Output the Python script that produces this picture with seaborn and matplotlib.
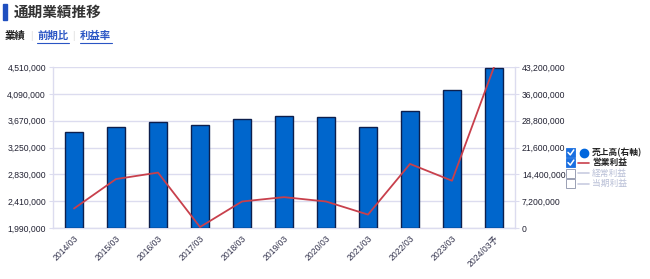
import numpy as np
import pandas as pd
import matplotlib
matplotlib.use("Agg")
import matplotlib.pyplot as plt
import seaborn as sns
from matplotlib.patches import Rectangle
from matplotlib.lines import Line2D

# ---- data ----
periods = ["2014/03", "2015/03", "2016/03", "2017/03", "2018/03", "2019/03",
           "2020/03", "2021/03", "2022/03", "2023/03", "2024/03予"]
sales = [25740000, 27090000, 28350000, 27540000, 29340000, 30150000,
         29790000, 27180000, 31410000, 37080000, 42930000]          # 売上高 (right axis)
op_profit = [2295000, 2756000, 2857000, 2005000, 2405000, 2473000,
             2405000, 2200000, 2993000, 2730000, 4510000]           # 営業利益 (left axis)
left_ticks = [1990000, 2410000, 2830000, 3250000, 3670000, 4090000, 4510000]
right_ticks = [0, 7200000, 14400000, 21600000, 28800000, 36000000, 43200000]
legend_labels = ["売上高(右軸)", "営業利益", "経常利益", "当期利益"]

sns.set_theme(style="white")
plt.rcParams["font.family"] = ["Liberation Sans", "Noto Sans CJK JP", "DejaVu Sans"]

df = pd.DataFrame({"period": periods, "sales": sales, "op": op_profit})

fig = plt.figure(figsize=(6.5, 2.79), dpi=100)
fig.patch.set_facecolor("white")
ax = fig.add_axes([53/650, 1-228/279, (515-53)/650, (228-67)/279])

grid_c = "#dcdcef"
text_c = "#222233"

# bars on ax (right-hand scale)
sns.barplot(data=df, x="period", y="sales", ax=ax, color="#0066cc",
            saturation=1, width=0.44, edgecolor="#0d1f4d", linewidth=1.0, zorder=3)
ax.set_ylim(right_ticks[0], right_ticks[-1])
ax.set_xlim(-0.5, len(periods) - 0.5)
ax.grid(axis="y", color=grid_c, linewidth=1.0, zorder=0)
ax.set_axisbelow(True)
ax.set_xlabel("")
ax.set_ylabel("")

# line on twin (left-hand scale)
ax2 = ax.twinx()
sns.lineplot(data=df, x="period", y="op", ax=ax2, color="#c8404c",
             linewidth=1.3, sort=False, zorder=5)
ax2.set_ylim(left_ticks[0], left_ticks[-1])
ax2.set_xlim(-0.5, len(periods) - 0.5)
ax2.set_xlabel("")
ax2.set_ylabel("")

# axis sides (after twinx, which resets them)
ax.yaxis.tick_right()
ax.set_yticks(right_ticks)
ax.set_yticklabels([f"{v:,}" for v in right_ticks])
ax2.yaxis.tick_left()
ax2.set_yticks(left_ticks)
ax2.set_yticklabels([f"{v:,}" for v in left_ticks])

for a in (ax, ax2):
    for s in a.spines.values():
        s.set_visible(False)
    a.tick_params(axis="y", labelsize=6.2, colors=text_c, length=3, width=0.8,
                  color=grid_c, pad=2)

for k in ("left", "right", "bottom"):
    ax.spines[k].set_visible(True)
    ax.spines[k].set_color(grid_c)
    ax.spines[k].set_linewidth(1.0)

ax.set_xticks(range(len(periods)))
ax.set_xticklabels(periods, rotation=45, ha="right", rotation_mode="anchor")
ax.tick_params(axis="x", labelsize=6.2, colors="#33334d", length=0, pad=4)
ax.set_xticks(np.arange(0.5, len(periods) - 0.5, 1), minor=True)
ax.tick_params(axis="x", which="minor", direction="in", length=5, width=1,
               color="#d8d8e4")
ax2.tick_params(axis="x", bottom=False, labelbottom=False)

# ---- header ----
fig.patches.append(Rectangle((3/650, 1-20/279), 4/650, 16/279,
                             transform=fig.transFigure, color="#1f4fbf"))
fig.text(14/650, 1-12/279, "通期業績推移", fontsize=10.5, fontweight="bold",
         color="#333333", va="center", ha="left",
         family=["Noto Sans CJK JP", "DejaVu Sans"])
fig.text(5/650, 1-36/279, "業績", fontsize=7.5, fontweight="bold",
         color="#222222", va="center", ha="left",
         family=["Noto Sans CJK JP", "DejaVu Sans"])
fig.text(31/650, 1-36/279, "|", fontsize=7, color="#dddddd", va="center",
         ha="center")
fig.text(37/650, 1-36/279, "前期比", fontsize=7.5, fontweight="bold",
         color="#2a55c4", va="center", ha="left",
         family=["Noto Sans CJK JP", "DejaVu Sans"])
fig.text(73/650, 1-36/279, "|", fontsize=7, color="#dddddd", va="center",
         ha="center")
fig.text(80/650, 1-36/279, "利益率", fontsize=7.5, fontweight="bold",
         color="#2a55c4", va="center", ha="left",
         family=["Noto Sans CJK JP", "DejaVu Sans"])
for x0, x1 in ((37, 69), (80, 112)):
    fig.lines.append(Line2D([x0/650, x1/650], [1-43/279, 1-43/279],
                            transform=fig.transFigure, color="#2a55c4", lw=0.8))

# ---- legend (checkbox style) ----
rows_y = [152.7, 162.9, 173.3, 183.5]
checked = [True, True, False, False]
txt_colors = ["#222222", "#222222", "#b8bfd6", "#b8bfd6"]
for i, (lab, yy) in enumerate(zip(legend_labels, rows_y)):
    ycen = 1 - yy/279
    bw, bh = 9/650, 9/279
    if checked[i]:
        fig.patches.append(Rectangle((566/650, ycen - bh/2), bw, bh,
                                     transform=fig.transFigure,
                                     facecolor="#1a6fe0", edgecolor="#1a6fe0",
                                     lw=0.6))
        fig.lines.append(Line2D([568/650, 570.3/650, 573.8/650],
                                [ycen + 0.3/279, ycen - 2.2/279, ycen + 2.8/279],
                                transform=fig.transFigure, color="white",
                                lw=1.1))
    else:
        fig.patches.append(Rectangle((566/650, ycen - bh/2), bw, bh,
                                     transform=fig.transFigure,
                                     facecolor="white", edgecolor="#9aa0b4",
                                     lw=0.7))
    if i == 0:
        fig.lines.append(Line2D([584/650], [ycen], transform=fig.transFigure,
                                marker="o", markersize=6, color="#0066dd",
                                linestyle="none"))
    else:
        lc = "#c8404c" if i == 1 else "#c8cce0"
        fig.lines.append(Line2D([578/650, 589/650], [ycen, ycen],
                                transform=fig.transFigure, color=lc, lw=1.2))
    fig.text(592/650, ycen, lab, fontsize=6.3,
             fontweight="bold" if checked[i] else "normal",
             color=txt_colors[i], va="center", ha="left",
             family=["Noto Sans CJK JP", "DejaVu Sans"])

fig.savefig("out.png", dpi=100)
